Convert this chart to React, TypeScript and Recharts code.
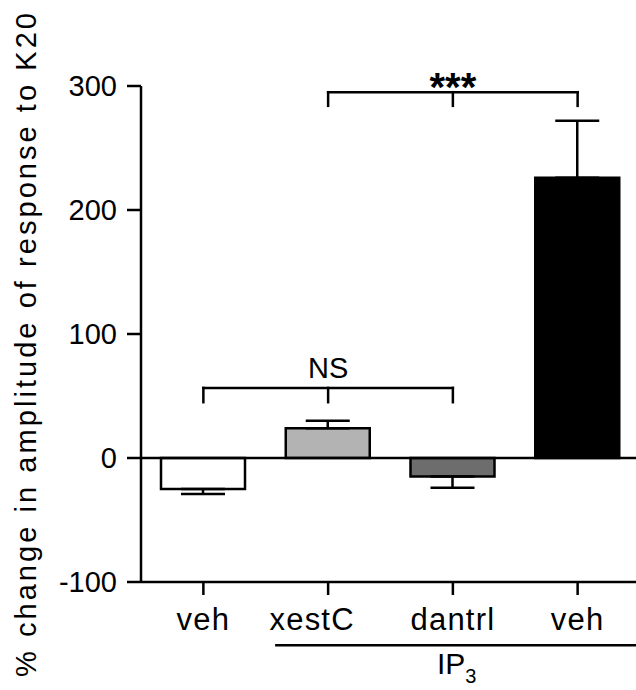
import React from 'react';
import { BarChart, Bar, XAxis, YAxis, ErrorBar, Cell, ReferenceLine, ReferenceDot } from 'recharts';

const categories = ['veh', 'xestC', 'dantrl', 'veh'];
const meanValues = [-25, 24, -15, 226];
const errLow = [4, 0, 9, 0];
const errHigh = [0, 6, 0, 46];
const barColors = ['#ffffff', '#b3b3b3', '#6d6d6d', '#000000'];
const yTicks = [-100, 0, 100, 200, 300];
const categoryPositions = categories.map((_, i) => i + 0.5);
const yTitle = '% change in amplitude of response to K20';

const brackets = [
  { label: 'NS', from: 0.5, mid: 1.5, to: 2.5, top: 56.5, foot: 45, textY: 64.5, bold: false },
  { label: '***', from: 1.5, mid: 2.5, to: 3.5, top: 295, foot: 284, textY: 288, bold: true },
];
const group = { text: 'IP', sub: '3', from: 1.075, to: 4, lineY: -151, textX: 2.53, textY: -174 };

const data = categories.map((c, i) => ({
  pos: categoryPositions[i],
  label: c,
  value: meanValues[i],
  err: [errLow[i], errHigh[i]],
}));

const FONT = '"Liberation Sans", Arial, Helvetica, sans-serif';
const SW = 2.5;
const labelNudge = [0, -16, 0, 0];

const renderYLabel = (props: any) => {
  const vb = props && props.viewBox ? props.viewBox : { x: 0, y: 86, width: 141, height: 496 };
  const x = vb.x + 36;
  const y = vb.y + vb.height / 2 + 11;
  return (
    <text
      x={x}
      y={y}
      transform={`rotate(-90 ${x} ${y})`}
      textAnchor="middle"
      fontSize={29}
      fontFamily={FONT}
      textLength={664}
      lengthAdjust="spacing"
      fill="#000"
    >
      {yTitle}
    </text>
  );
};

const XTick = (props: any) => {
  const { x, y, payload } = props;
  const idx = Math.floor(payload.value);
  return (
    <text
      x={x + (labelNudge[idx] || 0)}
      y={y}
      dy="0.71em"
      textAnchor="middle"
      fontSize={31}
      fontFamily={FONT}
      letterSpacing={1.2}
      fill="#000"
    >
      {categories[idx]}
    </text>
  );
};

export default function App() {
  return (
    <div style={{ position: 'absolute', left: 0, top: 0, width: 636, height: 690, overflow: 'hidden', background: '#fff' }}>
      <BarChart
        width={640}
        height={690}
        data={data}
        margin={{ top: 86, right: 0, bottom: 0, left: 0 }}
        style={{ fontFamily: FONT }}
      >
        <XAxis
          type="number"
          dataKey="pos"
          domain={[0, 4]}
          ticks={categoryPositions}
          interval={0}
          allowDecimals
          height={108}
          axisLine={{ stroke: '#000', strokeWidth: SW }}
          tickLine={{ stroke: '#000', strokeWidth: SW }}
          tickSize={13}
          tickMargin={13}
          tick={<XTick />}
        />
        <YAxis
          type="number"
          domain={[-100, 300]}
          ticks={yTicks}
          interval={0}
          width={141}
          axisLine={{ stroke: '#000', strokeWidth: SW }}
          tickLine={{ stroke: '#000', strokeWidth: SW }}
          tickSize={14}
          tickMargin={10}
          tick={{ fontSize: 29, fill: '#000', fontFamily: FONT }}
          label={renderYLabel}
        />
        <ReferenceLine y={0} stroke="#000" strokeWidth={SW} />
        <Bar dataKey="value" barSize={84} stroke="#000" strokeWidth={SW} isAnimationActive={false}>
          {data.map((d, i) => (
            <Cell key={i} fill={barColors[i]} />
          ))}
          <ErrorBar dataKey="err" width={22} stroke="#000" strokeWidth={SW} direction="y" isAnimationActive={false} />
        </Bar>
        {brackets.map((b, i) => (
          <ReferenceLine
            key={`h${i}`}
            segment={[{ x: b.from, y: b.top }, { x: b.to, y: b.top }]}
            stroke="#000"
            strokeWidth={SW}
            strokeLinecap="square"
            ifOverflow="visible"
          />
        ))}
        {brackets.flatMap((b, i) =>
          [b.from, b.mid, b.to].map((xv, j) => (
            <ReferenceLine
              key={`v${i}-${j}`}
              segment={[{ x: xv, y: b.top }, { x: xv, y: b.foot }]}
              stroke="#000"
              strokeWidth={SW}
              strokeLinecap="square"
              ifOverflow="visible"
            />
          ))
        )}
        {brackets.map((b, i) => (
          <ReferenceDot
            key={`t${i}`}
            x={b.mid}
            y={b.textY}
            r={0}
            ifOverflow="visible"
            shape={(p: any) => (
              <text
                x={p.cx}
                y={p.cy}
                textAnchor="middle"
                fontSize={b.bold ? 40 : 29}
                fontWeight={b.bold ? 'bold' : 'normal'}
                fontFamily={FONT}
                fill="#000"
              >
                {b.label}
              </text>
            )}
          />
        ))}
        <ReferenceLine
          segment={[{ x: group.from, y: group.lineY }, { x: group.to, y: group.lineY }]}
          stroke="#000"
          strokeWidth={SW}
          ifOverflow="visible"
        />
        <ReferenceDot
          x={group.textX}
          y={group.textY}
          r={0}
          ifOverflow="visible"
          shape={(p: any) => (
            <text x={p.cx} y={p.cy} textAnchor="middle" fontSize={30} fontFamily={FONT} fill="#000">
              {group.text}
              <tspan fontSize={20} dy={9}>
                {group.sub}
              </tspan>
            </text>
          )}
        />
      </BarChart>
    </div>
  );
}
